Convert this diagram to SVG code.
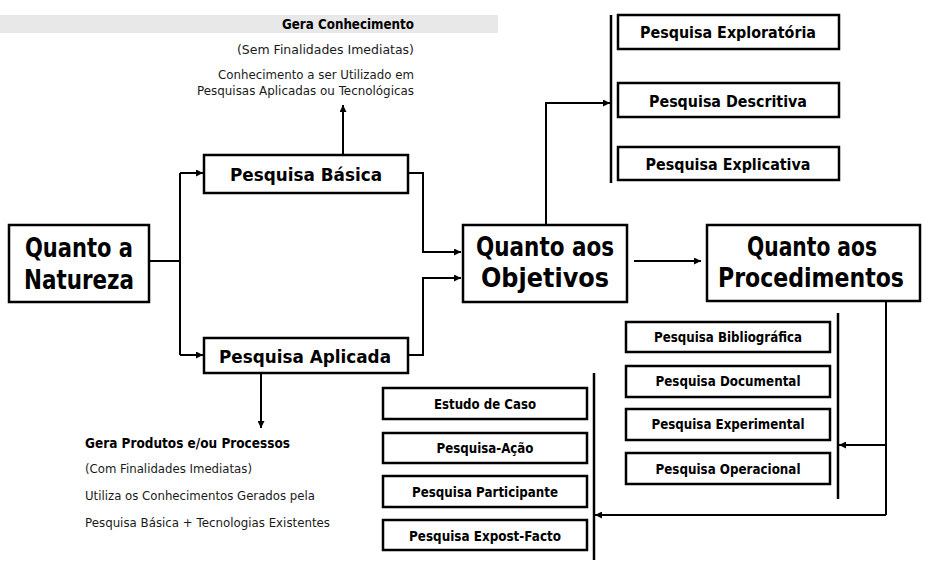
<svg xmlns="http://www.w3.org/2000/svg" width="929" height="566" viewBox="0 0 929 566">
  <defs>
    <marker id="arrow" viewBox="0 0 10 10" refX="10" refY="5" markerWidth="7" markerHeight="7" markerUnits="userSpaceOnUse" orient="auto">
      <path d="M0,0 L10,5 L0,10 z" fill="#000"/>
    </marker>
    <style>
      .box { fill: #fff; stroke: #000; stroke-width: 2.5; }
      .big { font-family: "DejaVu Sans Condensed", "DejaVu Sans", sans-serif; font-weight: bold; font-size: 26px; text-anchor: middle; fill: #000; }
      .mid { font-family: "DejaVu Sans", sans-serif; font-weight: bold; font-size: 18px; text-anchor: middle; fill: #000; }
      .sm { font-family: "DejaVu Sans", sans-serif; font-weight: bold; font-size: 16px; text-anchor: middle; fill: #000; }
      .xs { font-family: "DejaVu Sans", sans-serif; font-weight: bold; font-size: 14px; text-anchor: middle; fill: #000; }
      .note { font-family: "DejaVu Sans", sans-serif; font-size: 13px; fill: #1a1a1a; }
      .noteb { font-family: "DejaVu Sans", sans-serif; font-size: 14px; font-weight: bold; fill: #000; }
      .wire { fill: none; stroke: #000; stroke-width: 2; }
      .bar { fill: none; stroke: #000; stroke-width: 2.5; }
    </style>
  </defs>

  <rect width="929" height="566" fill="#fff"/>

  <!-- notes for basic research -->
  <g id="nota-basica">
    <rect x="0" y="15" width="498" height="18" fill="#e8e8e8"/>
    <text class="noteb" x="414" y="29" text-anchor="end" textLength="132" lengthAdjust="spacingAndGlyphs">Gera Conhecimento</text>
    <text class="note" x="414" y="54" text-anchor="end" textLength="177" lengthAdjust="spacingAndGlyphs">(Sem Finalidades Imediatas)</text>
    <text class="note" x="414" y="79" text-anchor="end" textLength="196" lengthAdjust="spacingAndGlyphs">Conhecimento a ser Utilizado em</text>
    <text class="note" x="414" y="95" text-anchor="end" textLength="217" lengthAdjust="spacingAndGlyphs">Pesquisas Aplicadas ou Tecnológicas</text>
  </g>

  <!-- notes for applied research -->
  <g id="nota-aplicada">
    <text class="noteb" x="85" y="448" textLength="205" lengthAdjust="spacingAndGlyphs">Gera Produtos e/ou Processos</text>
    <text class="note" x="85" y="473" textLength="167" lengthAdjust="spacingAndGlyphs">(Com Finalidades Imediatas)</text>
    <text class="note" x="85" y="500" textLength="230" lengthAdjust="spacingAndGlyphs">Utiliza os Conhecimentos Gerados pela</text>
    <text class="note" x="85" y="527" textLength="245" lengthAdjust="spacingAndGlyphs">Pesquisa Básica + Tecnologias Existentes</text>
  </g>

  <!-- connectors -->
  <g id="connectors">
    <path class="wire" d="M149,261 H180"/>
    <path class="wire" d="M180,173 V355"/>
    <path class="wire" d="M180,173 H203" marker-end="url(#arrow)"/>
    <path class="wire" d="M180,355 H203" marker-end="url(#arrow)"/>
    <path class="wire" d="M408,173 H423 V252 H461" marker-end="url(#arrow)"/>
    <path class="wire" d="M408,355 H423 V278 H461" marker-end="url(#arrow)"/>
    <path class="wire" d="M343,163 V105" marker-end="url(#arrow)"/>
    <path class="wire" d="M261,373 V428" marker-end="url(#arrow)"/>
    <path class="wire" d="M634,261 H701" marker-end="url(#arrow)"/>
    <path class="wire" d="M546,225 V103 H610" marker-end="url(#arrow)"/>
    <path class="bar" d="M611,15 V183"/>
    <path class="wire" d="M886,302 V515"/>
    <path class="wire" d="M886,445 H839" marker-end="url(#arrow)"/>
    <path class="bar" d="M838,313 V499"/>
    <path class="wire" d="M886,515 H595" marker-end="url(#arrow)"/>
    <path class="bar" d="M594,373 V560"/>
  </g>

  <!-- main nodes -->
  <g id="natureza">
    <rect class="box" x="9" y="225" width="140" height="77"/>
    <text class="big" x="79" y="257" textLength="108" lengthAdjust="spacingAndGlyphs">Quanto a</text>
    <text class="big" x="79" y="289" textLength="110" lengthAdjust="spacingAndGlyphs">Natureza</text>
  </g>
  <g id="basica">
    <rect class="box" x="204" y="155" width="204" height="38"/>
    <text class="mid" x="306" y="181" textLength="152" lengthAdjust="spacingAndGlyphs">Pesquisa Básica</text>
  </g>
  <g id="aplicada">
    <rect class="box" x="204" y="338" width="204" height="35"/>
    <text class="mid" x="305" y="363" textLength="172" lengthAdjust="spacingAndGlyphs">Pesquisa Aplicada</text>
  </g>
  <g id="objetivos">
    <rect class="box" x="463" y="225" width="164" height="77"/>
    <text class="big" x="545" y="256" textLength="138" lengthAdjust="spacingAndGlyphs">Quanto aos</text>
    <text class="big" x="545" y="287" textLength="128" lengthAdjust="spacingAndGlyphs">Objetivos</text>
  </g>
  <g id="procedimentos">
    <rect class="box" x="707" y="225" width="213" height="76"/>
    <text class="big" x="812" y="256" textLength="130" lengthAdjust="spacingAndGlyphs">Quanto aos</text>
    <text class="big" x="811" y="287" textLength="186" lengthAdjust="spacingAndGlyphs">Procedimentos</text>
  </g>

  <!-- objective types -->
  <g id="exploratoria">
    <rect class="box" x="618" y="15" width="221" height="34"/>
    <text class="sm" x="728" y="38" textLength="176" lengthAdjust="spacingAndGlyphs">Pesquisa Exploratória</text>
  </g>
  <g id="descritiva">
    <rect class="box" x="618" y="83" width="221" height="34"/>
    <text class="sm" x="728" y="107" textLength="158" lengthAdjust="spacingAndGlyphs">Pesquisa Descritiva</text>
  </g>
  <g id="explicativa">
    <rect class="box" x="618" y="147" width="221" height="33"/>
    <text class="sm" x="728" y="170" textLength="165" lengthAdjust="spacingAndGlyphs">Pesquisa Explicativa</text>
  </g>

  <!-- procedure types -->
  <g id="bibliografica">
    <rect class="box" x="626" y="322" width="204" height="30"/>
    <text class="xs" x="728" y="342" textLength="148" lengthAdjust="spacingAndGlyphs">Pesquisa Bibliográfica</text>
  </g>
  <g id="documental">
    <rect class="box" x="626" y="366" width="204" height="31"/>
    <text class="xs" x="728" y="386" textLength="145" lengthAdjust="spacingAndGlyphs">Pesquisa Documental</text>
  </g>
  <g id="experimental">
    <rect class="box" x="626" y="409" width="204" height="31"/>
    <text class="xs" x="728" y="429" textLength="153" lengthAdjust="spacingAndGlyphs">Pesquisa Experimental</text>
  </g>
  <g id="operacional">
    <rect class="box" x="626" y="453" width="204" height="31"/>
    <text class="xs" x="728" y="474" textLength="145" lengthAdjust="spacingAndGlyphs">Pesquisa Operacional</text>
  </g>
  <g id="estudo-caso">
    <rect class="box" x="383" y="388" width="204" height="31"/>
    <text class="xs" x="485" y="409" textLength="102" lengthAdjust="spacingAndGlyphs">Estudo de Caso</text>
  </g>
  <g id="pesquisa-acao">
    <rect class="box" x="383" y="433" width="204" height="30"/>
    <text class="xs" x="485" y="453" textLength="97" lengthAdjust="spacingAndGlyphs">Pesquisa-Ação</text>
  </g>
  <g id="participante">
    <rect class="box" x="383" y="476" width="204" height="31"/>
    <text class="xs" x="485" y="497" textLength="146" lengthAdjust="spacingAndGlyphs">Pesquisa Participante</text>
  </g>
  <g id="expost-facto">
    <rect class="box" x="383" y="520" width="204" height="30"/>
    <text class="xs" x="485" y="541" textLength="152" lengthAdjust="spacingAndGlyphs">Pesquisa Expost-Facto</text>
  </g>
</svg>
